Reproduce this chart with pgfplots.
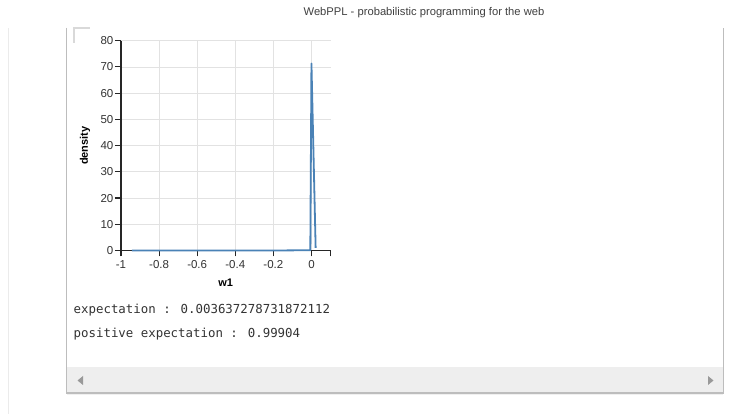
\documentclass[border=0pt]{standalone}
\usepackage{fontspec}
\setmainfont{Liberation Sans}
\newfontfamily\mono{DejaVu Sans Mono}
\usepackage{pgfplots}
\pgfplotsset{compat=1.18}
\definecolor{steel}{HTML}{4A82B6}
\definecolor{gridc}{HTML}{E2E2E2}
\definecolor{boxc}{HTML}{BDBDBD}
\definecolor{scrollc}{HTML}{EEEEEE}
\definecolor{txt}{HTML}{333333}
\begin{document}
\begin{tikzpicture}[x=1pt,y=1pt]
\fill[white] (0,0) rectangle (732,414);
% faint page line
\draw[color=black!8, line width=1pt] (8,0) -- (8,386);
% output box
\fill[scrollc] (66.5,21) rectangle (723.5,47);
\draw[boxc, line width=1.2pt] (66.5,386) -- (66.5,21) -- (723.5,21) -- (723.5,386);
\draw[black!6, line width=1pt] (67,19.5) -- (723,19.5);
\fill[black!40] (83,38) -- (83,29) -- (77.5,33.5) -- cycle;
\fill[black!40] (708,38) -- (708,29) -- (713.5,33.5) -- cycle;
% corner mark
\draw[black!15, line width=1.4pt] (74,371) -- (74,386) -- (90,386);
% window title
\node[font=\fontsize{11.2}{13}\selectfont, text=black!75] at (424,401) {WebPPL - probabilistic programming for the web};
\begin{axis}[
  at={(121pt,163.5pt)}, anchor=south west,
  scale only axis, width=209.5pt, height=209.8pt,
  xmin=-1, xmax=0.1, ymin=0, ymax=80,
  axis lines=left, axis line style={-, black!85, line width=1.1pt},
  clip=false,
  tick align=outside, major tick length=6pt,
  every tick/.style={black!85, line width=1.1pt},
  xtick={-1,-0.8,-0.6,-0.4,-0.2,0},
  xticklabels={-1,-0.8,-0.6,-0.4,-0.2,0},
  extra x ticks={0.1}, extra x tick labels={},
  extra x tick style={grid=none},
  ytick={0,10,20,30,40,50,60,70,80},
  yticklabels={0,10,20,30,40,50,60,70,80},
  grid=major, major grid style={gridc, line width=0.8pt},
  tick label style={font=\fontsize{11.5}{13}\selectfont, text=txt},
  yticklabel style={inner sep=1.5pt},
  xticklabel style={inner sep=3.5pt},
  xlabel={w1}, ylabel={density},
  label style={font=\bfseries\fontsize{11}{13}\selectfont, text=black},
  xlabel style={at={(axis description cs:0.5,-0.155)}, anchor=center},
  ylabel style={at={(axis description cs:-0.172,0.5)}, anchor=center},
]
\addplot[steel, line width=1.8pt, line join=round] coordinates {
  (-0.943,0) (-0.8,0) (-0.6,0) (-0.4,0) (-0.2,0) (-0.006,0.1) (0.0,71.3) (0.022,1.0)
};
\end{axis}
% printed results
\node[anchor=base west, inner sep=0pt, font=\mono\fontsize{12.4}{14}\selectfont, text=txt] at (73.5,100.5) {expectation : 0.003637278731872112};
\node[anchor=base west, inner sep=0pt, font=\mono\fontsize{12.4}{14}\selectfont, text=txt] at (73.5,76.5) {positive expectation : 0.99904};
\end{tikzpicture}
\end{document}
